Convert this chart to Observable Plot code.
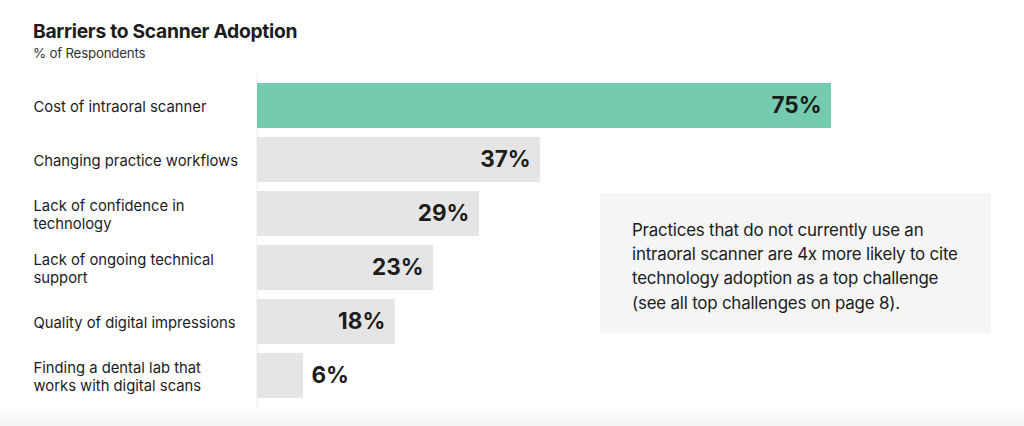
<!DOCTYPE html>
<html>
<head>
<meta charset="utf-8">
<script src="https://cdn.jsdelivr.net/npm/d3@7"></script>
<script src="https://cdn.jsdelivr.net/npm/@observablehq/plot@0.6"></script>
<style>
  html, body { margin: 0; padding: 0; background: #fff; }
  body { width: 1024px; height: 426px; position: relative; overflow: hidden; font-family: Inter, "Noto Sans", sans-serif; color: #1c1c1c; }
  #title { position: absolute; left: 33px; top: 19px; font-size: 19.3px; font-weight: 700; letter-spacing: -0.3px; }
  #subtitle { position: absolute; left: 33px; top: 45px; font-size: 13.3px; color: #333; letter-spacing: -0.2px; }
  #chart { position: absolute; left: 0; top: 73px; }
  #note { position: absolute; left: 600px; top: 193px; width: 391px; height: 140px; background: #f5f5f5; box-sizing: border-box; padding: 25px 0 0 32px; font-size: 16.9px; line-height: 24.2px; letter-spacing: -0.2px; color: #1c1c1c; }
  #shade { position: absolute; left: 0; top: 408px; width: 1024px; height: 18px; background: linear-gradient(to bottom, #ffffff, #f3f3f3); }
</style>
</head>
<body>
<div id="title">Barriers to Scanner Adoption</div>
<div id="subtitle">% of Respondents</div>
<div id="chart"></div>
<div id="note">Practices that do not currently use an<br>intraoral scanner are 4x more likely to cite<br>technology adoption as a top challenge<br>(see all top challenges on page 8).</div>
<div id="shade"></div>
<script>
const categories = [
  "Cost of intraoral scanner",
  "Changing practice workflows",
  "Lack of confidence in\ntechnology",
  "Lack of ongoing technical\nsupport",
  "Quality of digital impressions",
  "Finding a dental lab that\nworks with digital scans"
];
const values = [75, 37, 29, 23, 18, 6];
const highlighted = ["Cost of intraoral scanner"];
const outsideLabel = ["Finding a dental lab that\nworks with digital scans"];

const data = categories.map((c, i) => ({category: c, value: values[i]}));

const chart = Plot.plot({
  width: 1024,
  height: 335,
  marginLeft: 257,
  marginRight: 193,
  marginTop: 0,
  marginBottom: 0,
  style: {fontFamily: "Inter, 'Noto Sans', sans-serif", background: "transparent"},
  x: {domain: [0, 75], axis: null},
  y: {domain: categories, axis: null, paddingInner: 0.1667, paddingOuter: 0.185},
  marks: [
    Plot.ruleX([0], {stroke: "#ececec", strokeWidth: 1, dx: -0.5}),
    Plot.barX(data, {
      y: "category", x: "value",
      fill: d => highlighted.includes(d.category) ? "#74cbb0" : "#e5e5e5"
    }),
    Plot.text(data.filter(d => !outsideLabel.includes(d.category)), {
      y: "category", x: "value", text: d => d.value + "%",
      textAnchor: "end", dx: -10, fontSize: 22.5, fontWeight: 700, fill: "#1c1c1c", letterSpacing: "-0.6px"
    }),
    Plot.text(data.filter(d => outsideLabel.includes(d.category)), {
      y: "category", x: "value", text: d => d.value + "%",
      textAnchor: "start", dx: 8, fontSize: 22.5, fontWeight: 700, fill: "#1c1c1c", letterSpacing: "-0.6px"
    }),
    Plot.text(data, {
      y: "category", text: "category", frameAnchor: "left", dx: -224,
      textAnchor: "start", fontSize: 14.8, lineHeight: 1.2, fill: "#1c1c1c", letterSpacing: "-0.2px"
    })
  ]
});
document.getElementById("chart").appendChild(chart);
</script>
</body>
</html>
